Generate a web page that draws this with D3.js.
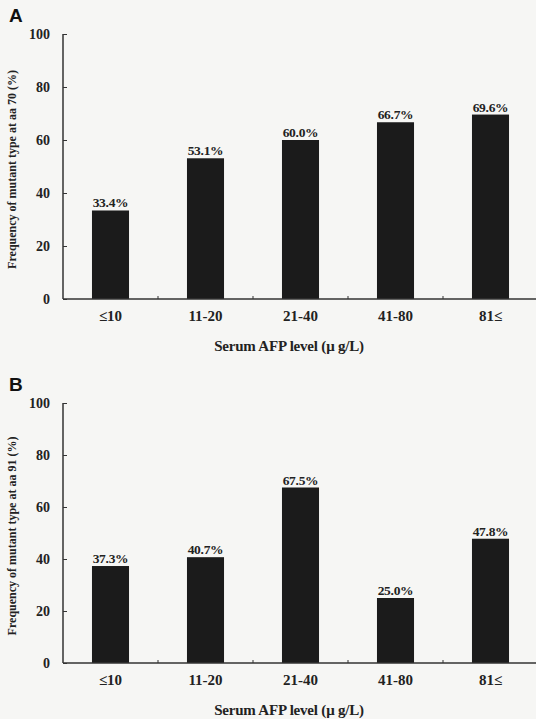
<!DOCTYPE html>
<html>
<head>
    <meta charset="utf-8">
    <title>AFP level vs mutant frequency</title>
    <style>
        body { margin: 0; background: #f6f6f4; }
        svg { display: block; }
        text { font-family: "Liberation Serif", "DejaVu Serif", serif; font-weight: bold; fill: #222; }
    </style>
</head>
<body>
<div id="chart"></div>

<script src="https://d3js.org/d3.v7.min.js"></script>
<script>

    // categories and values
    var levels = ["\u226410", "11-20", "21-40", "41-80", "81\u2264"];
    var aa70 = [33.4, 53.1, 60.0, 66.7, 69.6];
    var aa91 = [37.3, 40.7, 67.5, 25.0, 47.8];
    var yTicks = [0, 20, 40, 60, 80, 100];

    var svg = d3.select("#chart")
        .append("svg")
        .attr("width", 536)
        .attr("height", 719);

    function panel(letter, values, aa, top, bottom) {
        var g = svg.append("g");

        var x = d3.scaleBand()
            .domain(levels)
            .range([63, 538])
            .paddingInner(0.61)
            .paddingOuter(0.305);

        var y = d3.scaleLinear()
            .domain([0, 100])
            .range([bottom, top]);

        // bars
        g.selectAll("rect")
            .data(values)
            .enter()
            .append("rect")
            .attr("x", function (d, i) { return x(levels[i]); })
            .attr("y", function (d) { return y(d); })
            .attr("width", x.bandwidth())
            .attr("height", function (d) { return bottom - y(d); })
            .style("fill", "#1b1b1b");

        // value labels
        g.selectAll(".val")
            .data(values)
            .enter()
            .append("text")
            .attr("class", "val")
            .attr("x", function (d, i) { return x(levels[i]) + x.bandwidth() / 2; })
            .attr("y", function (d) { return y(d) - 3; })
            .attr("text-anchor", "middle")
            .style("font-size", "13.5px")
            .style("letter-spacing", "-0.3px")
            .text(function (d) { return d.toFixed(1) + "%"; });

        // y axis
        var yAxis = g.append("g")
            .attr("transform", "translate(63,0)")
            .call(d3.axisRight(y).tickValues(yTicks).tickSize(4).tickFormat(d3.format("d")));
        yAxis.select(".domain").attr("d", "M0," + top + "V" + bottom).style("stroke", "#333").style("stroke-width", 1.5);
        yAxis.selectAll(".tick line").style("stroke", "#333");
        yAxis.selectAll(".tick text")
            .attr("x", -13)
            .attr("text-anchor", "end")
            .style("font-size", "14px")
            .style("font-family", "'Liberation Serif', serif")
            .style("font-weight", "bold")
            .style("fill", "#222");

        // x axis with ticks between the bars
        g.append("line")
            .attr("x1", 63).attr("x2", 536)
            .attr("y1", bottom).attr("y2", bottom)
            .style("stroke", "#333").style("stroke-width", 1.5);

        g.selectAll(".sep")
            .data(levels.slice(1))
            .enter()
            .append("line")
            .attr("class", "sep")
            .attr("x1", function (d) { return x(d) - x.step() * x.paddingInner() / 2; })
            .attr("x2", function (d) { return x(d) - x.step() * x.paddingInner() / 2; })
            .attr("y1", bottom).attr("y2", bottom - 3)
            .style("stroke", "#333");

        g.selectAll(".cat")
            .data(levels)
            .enter()
            .append("text")
            .attr("class", "cat")
            .attr("x", function (d) { return x(d) + x.bandwidth() / 2; })
            .attr("y", bottom + 22)
            .attr("text-anchor", "middle")
            .style("font-size", "15px")
            .text(function (d) { return d; });

        // axis titles
        g.append("text")
            .attr("x", 289)
            .attr("y", bottom + 52)
            .attr("text-anchor", "middle")
            .style("font-size", "15px")
            .style("letter-spacing", "-0.2px")
            .text("Serum AFP level (\u03bc g/L)");

        g.append("text")
            .attr("transform", "translate(16," + ((top + bottom) / 2 + 3) + ") rotate(-90)")
            .attr("text-anchor", "middle")
            .style("font-size", "12px")
            .text("Frequency of mutant type at aa " + aa + " (%)");

        g.append("text")
            .attr("x", 9)
            .attr("y", top - 12)
            .style("font-family", "'Liberation Sans', Arial, sans-serif")
            .style("font-size", "19px")
            .style("fill", "#111")
            .text(letter);
    }

    panel("A", aa70, 70, 34, 299);
    panel("B", aa91, 91, 403, 663);

</script>
</body>
</html>
